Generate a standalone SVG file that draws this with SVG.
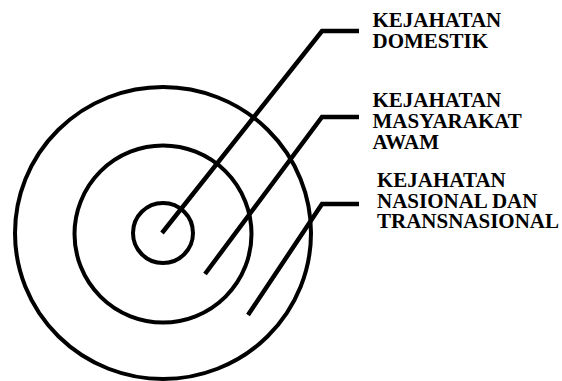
<svg xmlns="http://www.w3.org/2000/svg" width="562" height="381" viewBox="0 0 562 381">
<style>
.ring{fill:none;stroke:#000;stroke-width:4}
.conn{fill:none;stroke:#000;stroke-width:4.5;stroke-linejoin:miter;stroke-linecap:butt}
.lbl{font-family:"Liberation Serif","Times New Roman",serif;font-weight:bold;font-size:21px;fill:#000}
</style>
<rect width="562" height="381" fill="#fff"/>
<g id="outer-ring"><ellipse class="ring" cx="163" cy="233" rx="148" ry="146"/></g>
<g id="middle-ring"><circle class="ring" cx="163" cy="234" r="88.5"/></g>
<g id="inner-ring"><circle class="ring" cx="163" cy="233" r="30"/></g>
<g id="connectors">
<path class="conn" d="M162,233 L322,31 L359,31"/>
<path class="conn" d="M205,274 L322,117 L359,117"/>
<path class="conn" d="M248,315 L322,204 L359,204"/>
</g>
<g id="label-domestik">
<text class="lbl" x="372.5" y="27.3">KEJAHATAN</text>
<text class="lbl" x="372.5" y="48.3">DOMESTIK</text>
</g>
<g id="label-masyarakat">
<text class="lbl" x="372.5" y="106.7">KEJAHATAN</text>
<text class="lbl" x="372.5" y="127.7">MASYARAKAT</text>
<text class="lbl" x="372.5" y="148.7">AWAM</text>
</g>
<g id="label-nasional">
<text class="lbl" x="377" y="186.7">KEJAHATAN</text>
<text class="lbl" x="377" y="207.7">NASIONAL DAN</text>
<text class="lbl" x="377" y="228.3">TRANSNASIONAL</text>
</g>
</svg>
